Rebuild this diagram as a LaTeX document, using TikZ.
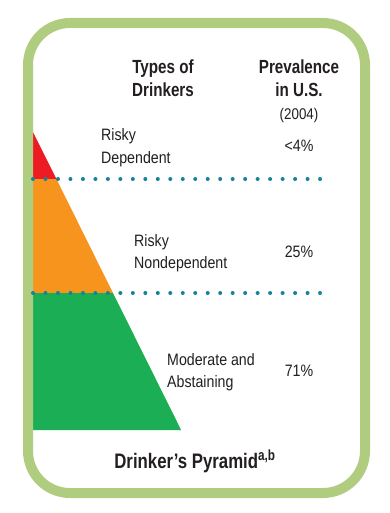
\documentclass[tikz,border=0pt]{standalone}
\usepackage{fontspec}
\setmainfont{Liberation Sans}[FakeStretch=0.86]
\newfontfamily\headfont{Liberation Sans}[FakeStretch=0.8]

\definecolor{framegreen}{RGB}{176,204,127}
\definecolor{riskred}{RGB}{237,28,36}
\definecolor{riskorange}{RGB}{247,148,29}
\definecolor{safegreen}{RGB}{27,174,84}
\definecolor{dotteal}{RGB}{22,132,152}
\definecolor{ink}{RGB}{35,31,32}

\tikzset{
  head/.style={font=\headfont\bfseries\fontsize{19}{23}\selectfont, align=center, text=ink, inner sep=0pt},
  kind/.style={font=\fontsize{16.5}{22}\selectfont, align=left, text=ink, inner sep=0pt, anchor=base west},
  share/.style={font=\fontsize{16.5}{22}\selectfont, text=ink, inner sep=0pt, anchor=base},
}

\begin{document}
\begin{tikzpicture}[x=1pt, y=-1pt]

\useasboundingbox (0,0) rectangle (389,513);
\fill [white] (0,0) rectangle (389,513);

% pyramid
\fill [riskred] (28,132) -- (33,132) -- (56.4,179) -- (28,179) -- cycle;
\fill [riskorange] (28,179) -- (56.4,179) -- (113,293) -- (28,293) -- cycle;
\fill [safegreen] (28,293) -- (113,293) -- (181.1,430) -- (28,430) -- cycle;

% frame
\draw [framegreen, line width=10pt, rounded corners=42pt] (28,23) rectangle (365,493);

% separators
\foreach \y in {179,293}
{
  \foreach \i in {0,1,...,23}
    \fill [dotteal] (33+\i*12.48, \y) circle (2pt);
}

% anchor base = baseline of the last line
\node (types) [head, anchor=base] at (163,97) {Types of\\Drinkers};
\node (prev) [head, anchor=base] at (299,97) {Prevalence\\in U.S.};
\node (year) [share, font=\fontsize{15.5}{18}\selectfont] at (299,120) {(2004)};

\node (dep) [kind] at (101,163) {Risky\\Dependent};
\node (nondep) [kind] at (134,268) {Risky\\Nondependent};
\node (moderate) [kind] at (167,387) {Moderate and\\Abstaining};

\node (depshare) [share] at (299,152) {<4\%};
\node (nondepshare) [share] at (299,257) {25\%};
\node (moderateshare) [share] at (299,376) {71\%};

\node (title) [head, font=\headfont\bfseries\fontsize{21}{25}\selectfont, anchor=base] at (195,468) {Drinker’s Pyramid\textsuperscript{a,b}};

\end{tikzpicture}
\end{document}
